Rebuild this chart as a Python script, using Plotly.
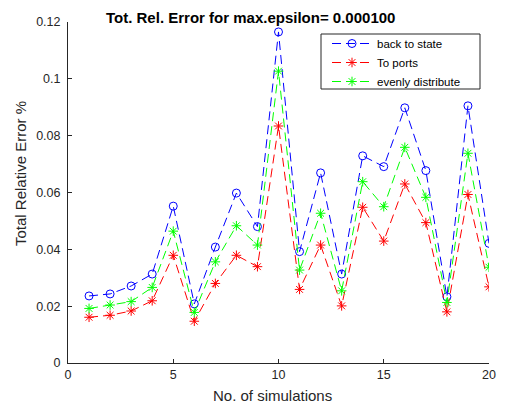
import plotly.graph_objects as go

sims = list(range(1, 21))
back_to_state = [0.0236, 0.0243, 0.0271, 0.0313, 0.0552, 0.0208, 0.0408, 0.0598, 0.0480, 0.1165,
                 0.0392, 0.0669, 0.0313, 0.0729, 0.0691, 0.0898, 0.0677, 0.0233, 0.0905, 0.0421]
to_ports = [0.0161, 0.0168, 0.0183, 0.0219, 0.0379, 0.0147, 0.0280, 0.0379, 0.0339, 0.0834,
            0.0259, 0.0415, 0.0201, 0.0548, 0.0429, 0.0630, 0.0494, 0.0180, 0.0593, 0.0268]
evenly = [0.0192, 0.0204, 0.0216, 0.0266, 0.0464, 0.0178, 0.0356, 0.0483, 0.0415, 0.1027,
          0.0327, 0.0527, 0.0254, 0.0638, 0.0550, 0.0759, 0.0583, 0.0213, 0.0738, 0.0337]

series = [
    ("back to state", back_to_state, "#0000FF", "circle-open"),
    ("To ports", to_ports, "#FF0000", "asterisk-open"),
    ("evenly distribute", evenly, "#00FF00", "asterisk-open"),
]

fig = go.Figure()
for name, vals, color, sym in series:
    fig.add_trace(go.Scatter(
        x=sims, y=vals, name=name, mode="lines+markers",
        line=dict(color=color, width=1, dash="9px,5px"),
        marker=dict(symbol=sym, size=8, color=color, line=dict(color=color, width=1)),
    ))

font = "Liberation Sans, Arial, sans-serif"
# page body keeps its 8px margin; figure sized to fit the 505x412 window exactly.
# Plot box in window pixels: x 68..489, y 22..363
OFF = 8
W, H = 489, 396
PL, PR, PT, PB = 68, 489, 22, 363
ml, mr, mt, mb = PL - OFF, W + OFF - PR, PT - OFF, H + OFF - PB
pw, ph = W - ml - mr, H - mt - mb


def px(X):
    return (X - PL) / pw


def py(Y):
    return (PB - Y) / ph


fig.update_layout(
    width=W, height=H,
    margin=dict(l=ml, r=mr, t=mt, b=mb, autoexpand=False),
    plot_bgcolor="white", paper_bgcolor="white",
    font=dict(family=font, size=12.5, color="#262626"),
    showlegend=True,
    legend=dict(x=px(327), y=py(29), xanchor="left", yanchor="top",
                borderwidth=0, bgcolor="rgba(0,0,0,0)",
                font=dict(family=font, size=11.5, color="black"),
                tracegroupgap=0, itemwidth=40),
)
# legend frame
fig.add_shape(type="rect", xref="paper", yref="paper",
              x0=px(321), x1=px(480), y0=py(34), y1=py(89),
              line=dict(color="#262626", width=1), fillcolor="white", layer="above")
fig.add_annotation(text="<b>Tot. Rel. Error for max.epsilon= 0.000100</b>",
                   xref="paper", yref="paper", x=px(250), y=py(17),
                   xanchor="center", yanchor="middle", showarrow=False,
                   font=dict(family=font, size=15, color="black"))
fig.add_annotation(text="Total Relative Error %", textangle=-90,
                   xref="paper", yref="paper", x=px(20), y=py(174),
                   xanchor="center", yanchor="middle", showarrow=False,
                   font=dict(family=font, size=15, color="#262626"))
fig.add_annotation(text="No. of simulations",
                   xref="paper", yref="paper", x=px(272), y=py(396),
                   xanchor="center", yanchor="middle", showarrow=False,
                   font=dict(family=font, size=15, color="#262626"))
fig.update_xaxes(
    range=[0, 20], dtick=5, tick0=0, showgrid=False, zeroline=False,
    showline=True, linecolor="#262626", linewidth=1, mirror=False,
    ticks="inside", ticklen=4, tickcolor="#262626", automargin=False,
)
fig.update_yaxes(
    range=[0, 0.12], dtick=0.02, tick0=0, showgrid=False, zeroline=False,
    showline=True, linecolor="#262626", linewidth=1, mirror=False,
    ticks="inside", ticklen=4, tickcolor="#262626", ticklabelstandoff=4,
    automargin=False,
)

fig.write_html("out.html", config={"displayModeBar": False})
